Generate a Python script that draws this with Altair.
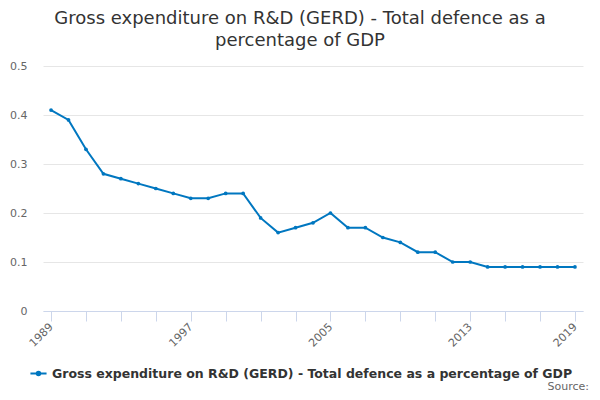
import altair as alt
import pandas as pd

years = list(range(1989, 2020))
values = [0.41, 0.39, 0.33, 0.28, 0.27, 0.26, 0.25, 0.24, 0.23, 0.23,
          0.24, 0.24, 0.19, 0.16, 0.17, 0.18, 0.20, 0.17, 0.17, 0.15,
          0.14, 0.12, 0.12, 0.10, 0.10, 0.09, 0.09, 0.09, 0.09, 0.09, 0.09]
series_name = "Gross expenditure on R&D (GERD) - Total defence as a percentage of GDP"
title_lines = ["Gross expenditure on R&D (GERD) - Total defence as a", "percentage of GDP"]
tick_years = list(range(1989, 2020, 2))
label_years = [1989, 1997, 2005, 2013, 2019]
y_ticks = [0, 0.1, 0.2, 0.3, 0.4, 0.5]

df = pd.DataFrame({"year": years, "value": values, "series": [series_name] * len(years)})

FONT = "DejaVu Sans"
COLOR = "#0077c0"

label_test = " || ".join(f"datum.value == {y}" for y in label_years)

line = alt.Chart(df).mark_line(
    strokeWidth=2,
    point=alt.OverlayMarkDef(filled=True, size=14),
).encode(
    x=alt.X("year:Q",
            scale=alt.Scale(domain=[1988.54, 2019.46], nice=False, zero=False),
            axis=alt.Axis(values=tick_years, format="d",
                          labelExpr=f"({label_test}) ? datum.label : ''",
                          labelAngle=-45, labelAlign="right", labelBaseline="middle",
                          labelPadding=4, labelFontSize=11, labelColor="#666666",
                          labelFont=FONT, labelOverlap=False, labelFlush=False,
                          grid=False, tickSize=10, tickColor="#ccd6eb",
                          domainColor="#ccd6eb", title=None)),
    y=alt.Y("value:Q",
            scale=alt.Scale(domain=[0, 0.5], nice=False),
            axis=alt.Axis(values=y_ticks, format="~g", grid=True, gridColor="#e6e6e6",
                          domain=False, ticks=False, labelPadding=16,
                          labelFontSize=11, labelColor="#666666", labelFont=FONT,
                          title=None)),
    color=alt.Color("series:N",
                    scale=alt.Scale(range=[COLOR]),
                    legend=alt.Legend(title=None, orient="none", legendX=-14, legendY=298,
                                      labelFont=FONT, labelFontSize=12.5, labelFontWeight="bold",
                                      labelColor="#333333", labelLimit=0,
                                      symbolType="M-1,0L1,0M-0.22,0A0.22,0.22 0 1,1 0.22,0A0.22,0.22 0 1,1 -0.22,0Z",
                                      symbolSize=260, symbolStrokeWidth=2,
                                      symbolFillColor=COLOR, symbolStrokeColor=COLOR,
                                      labelOffset=4)),
)

source = alt.Chart(pd.DataFrame({"t": ["Source:"]})).mark_text(
    font=FONT, fontSize=11, color="#666666", align="right", baseline="middle"
).encode(text="t:N", x=alt.value(546), y=alt.value(321))

chart = alt.layer(line, source).properties(
    width=540, height=245,
    autosize=alt.AutoSizeParams(type="none"),
    padding={"left": 35, "top": 58, "right": 9, "bottom": 81},
    title=alt.TitleParams(title_lines, anchor="middle", dx=-13, offset=10,
                          font=FONT, fontSize=18, fontWeight="normal",
                          color="#333333", lineHeight=22),
).configure_view(stroke=None)

chart.save("out.html", embed_options={"renderer": "svg", "actions": False})
